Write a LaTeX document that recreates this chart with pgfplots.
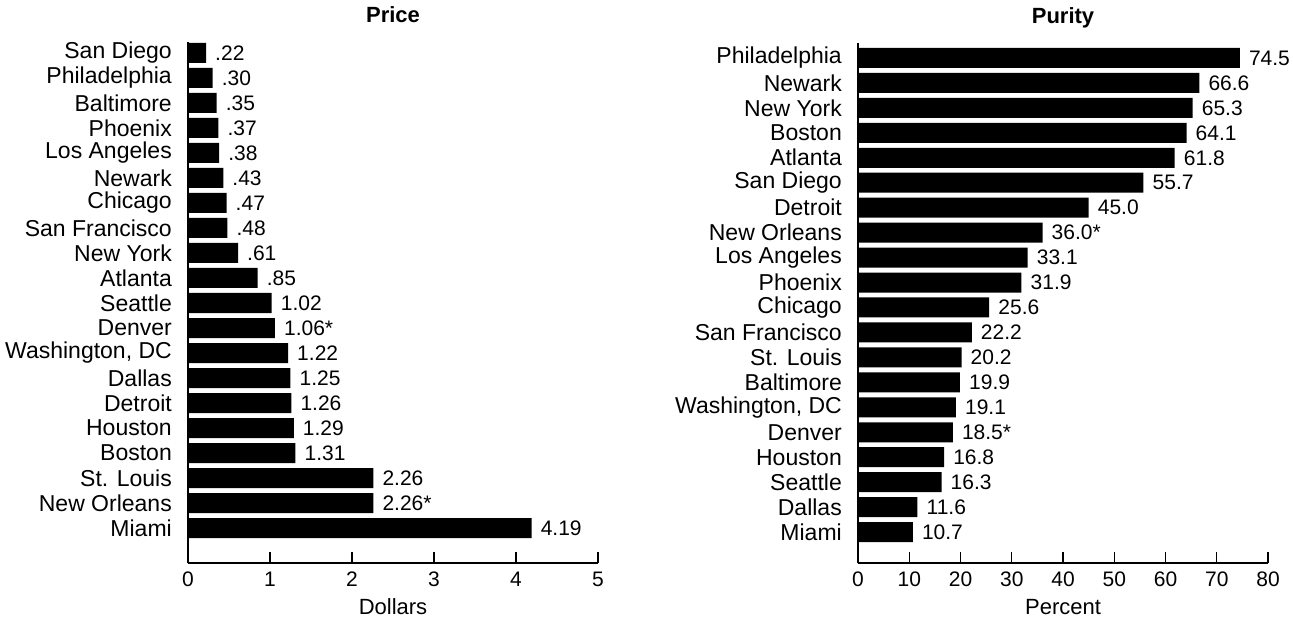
\documentclass[border=0pt]{standalone}
\usepackage{fontspec}
\setmainfont{Liberation Sans}
\usepackage{pgfplots}
\usepackage{pgfplotstable}
\pgfplotsset{compat=1.18}

\pgfplotstableread{
y x label
19 0.22 .22
18 0.30 .30
17 0.35 .35
16 0.37 .37
15 0.38 .38
14 0.43 .43
13 0.47 .47
12 0.48 .48
11 0.61 .61
10 0.85 .85
9 1.02 1.02
8 1.06 1.06*
7 1.22 1.22
6 1.25 1.25
5 1.26 1.26
4 1.29 1.29
3 1.31 1.31
2 2.26 2.26
1 2.26 2.26*
0 4.19 4.19
}\price

\pgfplotstableread{
y x label
19 74.5 74.5
18 66.6 66.6
17 65.3 65.3
16 64.1 64.1
15 61.8 61.8
14 55.7 55.7
13 45.0 45.0
12 36.0 36.0*
11 33.1 33.1
10 31.9 31.9
9 25.6 25.6
8 22.2 22.2
7 20.2 20.2
6 19.9 19.9
5 19.1 19.1
4 18.5 18.5*
3 16.8 16.8
2 16.3 16.3
1 11.6 11.6
0 10.7 10.7
}\purity

\pgfplotsset{
  mybar/.style={
    xbar, scale only axis, width=410pt,
    axis lines*=left,
    axis line style={line width=1.6pt, black},
    xtick align=inside,
    major tick length=11pt,
    xtick style={line width=1.4pt, black},
    ytick={0,...,19},
    ytick style={draw=none},
    xticklabel style={font=\fontsize{21}{25}\selectfont, anchor=base, yshift=-23pt, inner sep=0pt},
    yticklabel style={font=\fontsize{23}{27}\selectfont, anchor=east, inner sep=0pt, xshift=-5pt},
    /pgf/number format/assume math mode=true,
    bar width=20pt,
    nodes near coords,
    point meta=explicit symbolic,
    nodes near coords style={font=\fontsize{21}{25}\selectfont, anchor=west, inner sep=0pt, xshift=9pt},
    clip=false,
    title style={font=\fontsize{22}{26}\selectfont\bfseries, at={(axis description cs:0.5,1)}, anchor=base, yshift=13pt},
    xlabel style={font=\fontsize{22}{26}\selectfont, at={(axis description cs:0.5,0)}, anchor=base, yshift=-51pt},
  }
}

\begin{document}
\begin{tikzpicture}
\path[use as bounding box] (0,0) rectangle (1293pt,622pt);
\begin{axis}[mybar,
  at={(188pt,59pt)}, anchor=south west,
  height=521pt,
  xmin=0, xmax=5, xtick={0,...,5},
  ymin=-1.4, ymax=19.44,
  yticklabels={Miami,New Orleans,St. Louis,Boston,Houston,Detroit,Dallas,{Washington, DC},Denver,Seattle,Atlanta,New York,San Francisco,Chicago,Newark,Los Angeles,Phoenix,Baltimore,Philadelphia,San Diego},
  title={Price}, xlabel={Dollars}]
\addplot[fill=black, draw=none] table[x=x, y=y, meta=label]{\price};
\end{axis}
\begin{axis}[mybar,
  at={(858pt,59pt)}, anchor=south west,
  height=520pt,
  xmin=0, xmax=80, xtick={0,10,...,80},
  ymin=-1.24, ymax=19.6,
  yticklabels={Miami,Dallas,Seattle,Houston,Denver,{Washington, DC},Baltimore,St. Louis,San Francisco,Chicago,Phoenix,Los Angeles,New Orleans,Detroit,San Diego,Atlanta,Boston,New York,Newark,Philadelphia},
  title={Purity}, xlabel={Percent}]
\addplot[fill=black, draw=none] table[x=x, y=y, meta=label]{\purity};
\end{axis}
\end{tikzpicture}
\end{document}
